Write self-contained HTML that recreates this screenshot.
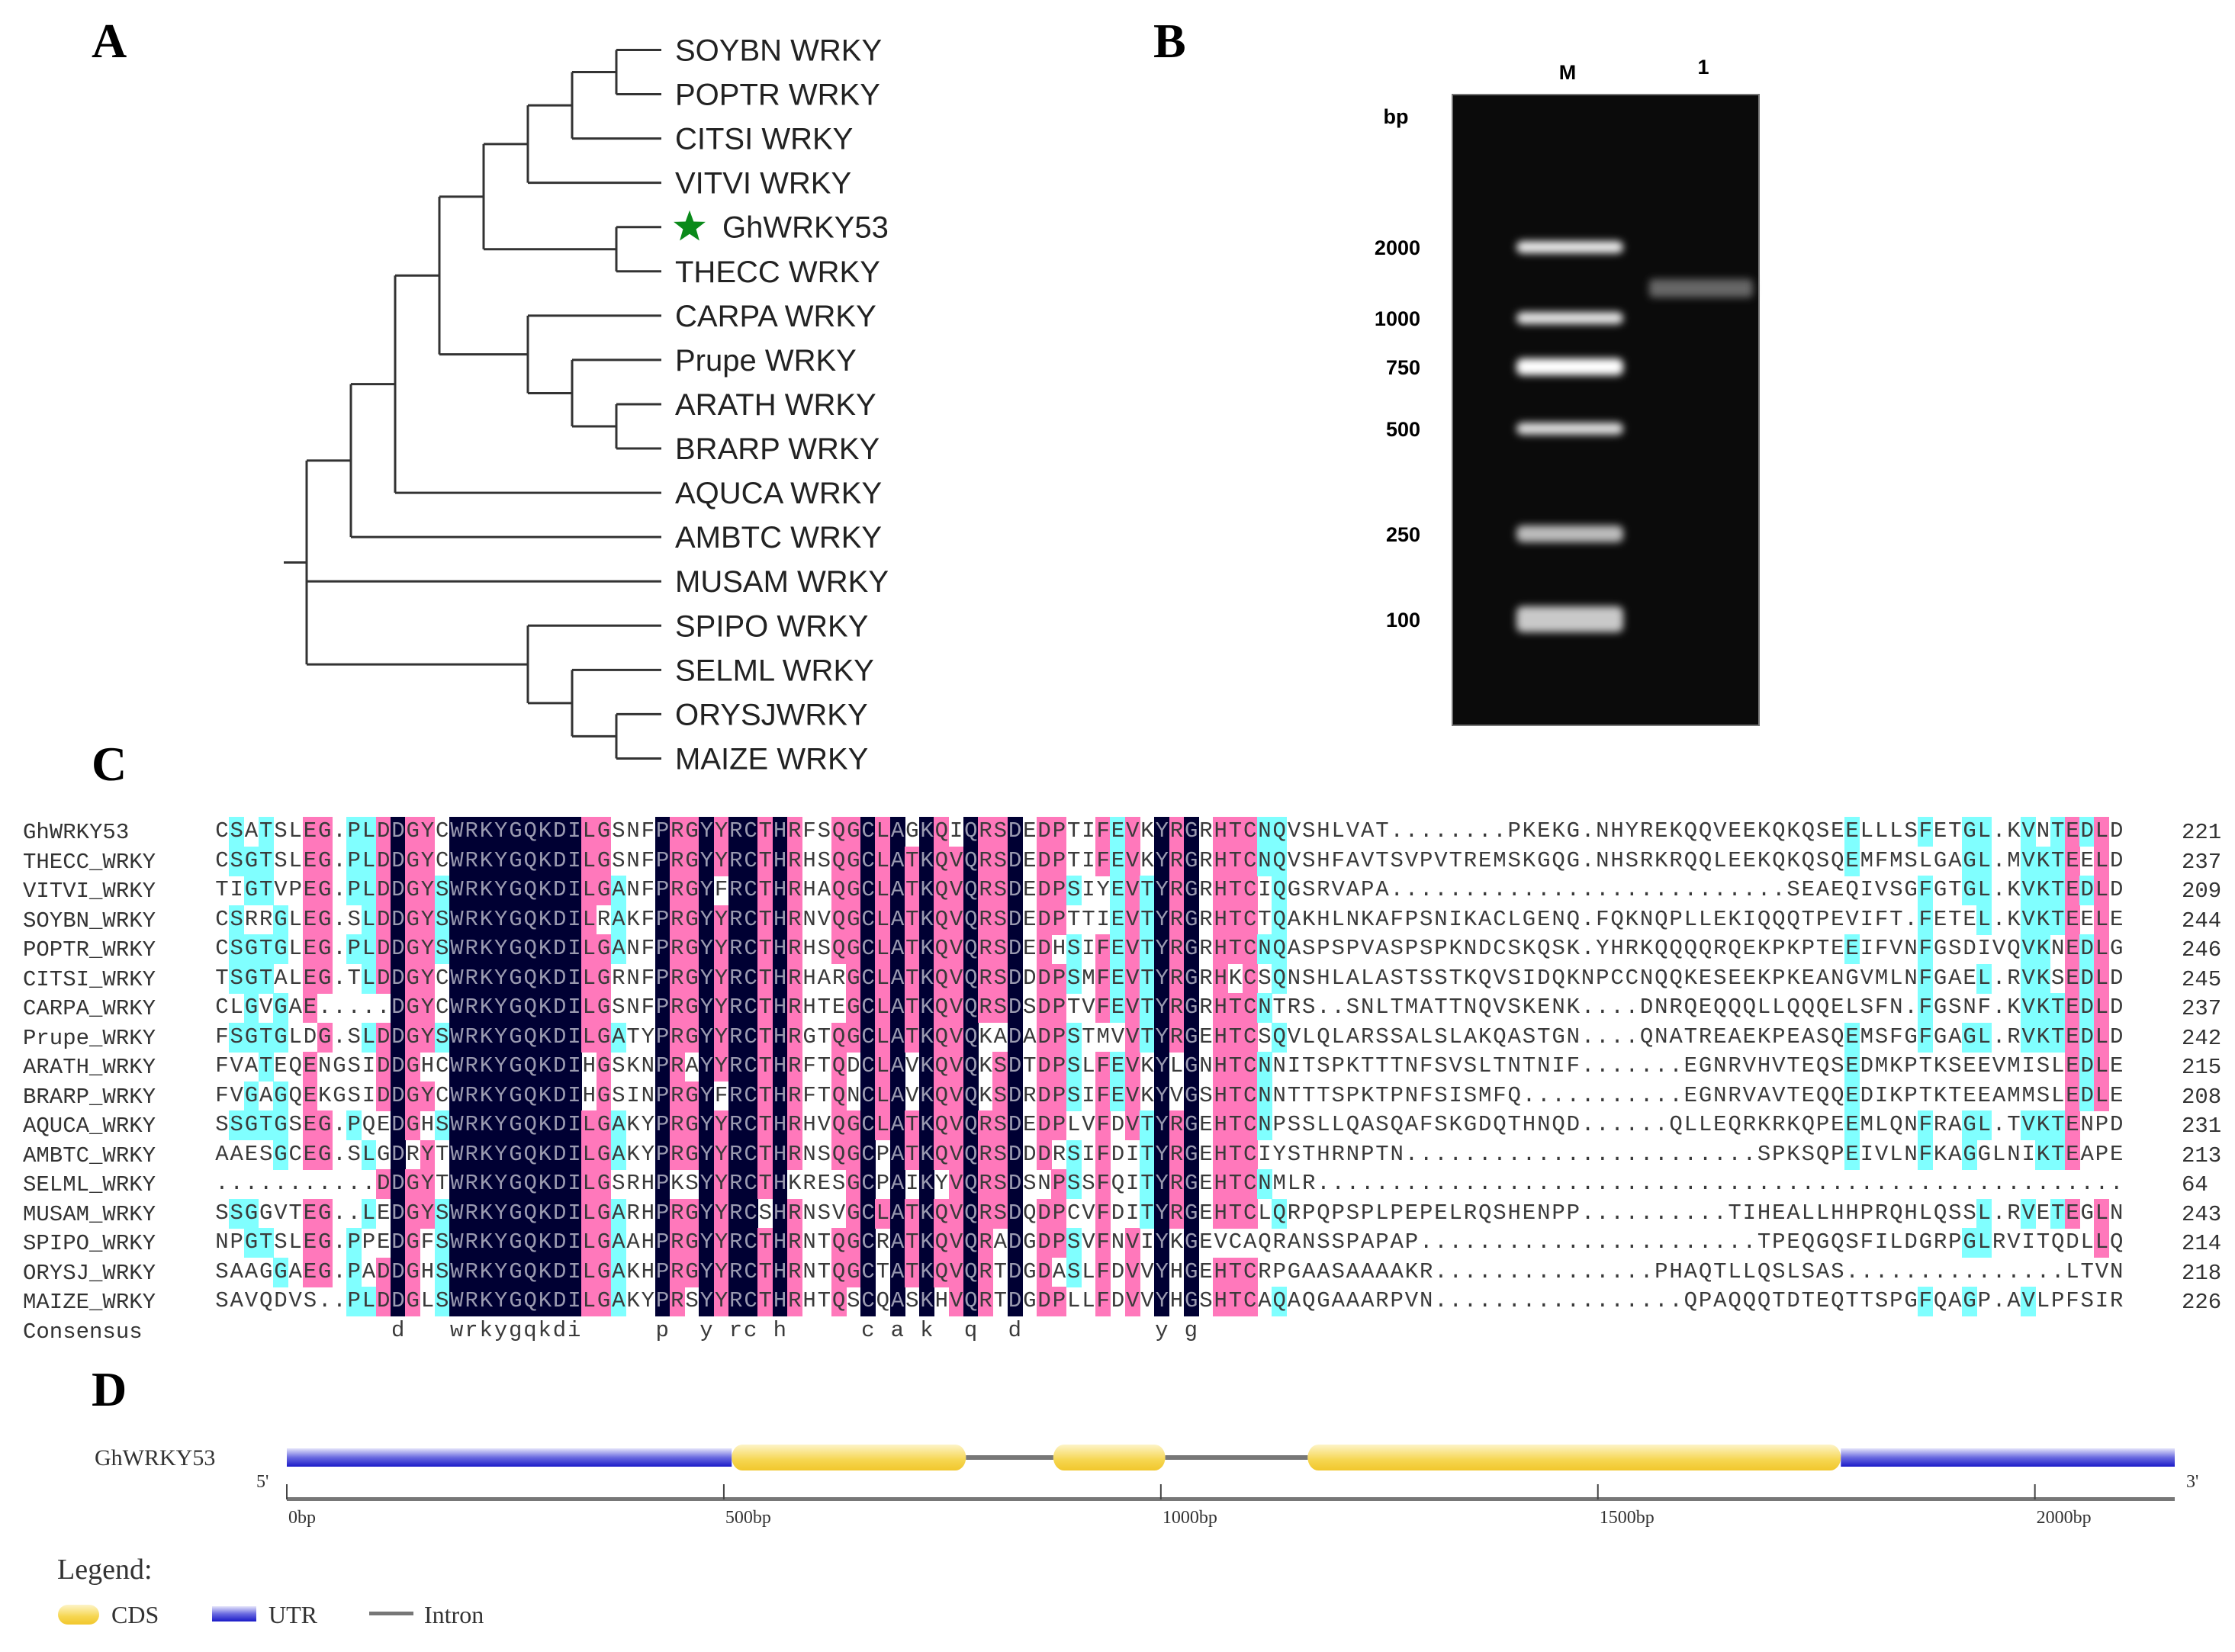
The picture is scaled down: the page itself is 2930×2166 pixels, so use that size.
<!DOCTYPE html>
<html><head><meta charset="utf-8">
<style>
html,body{margin:0;padding:0;background:#fff;}
#page{position:relative;width:2930px;height:2166px;overflow:hidden;background:#fff;}
.plabel{position:absolute;font-family:"Liberation Serif",serif;font-weight:bold;font-size:64px;line-height:1;}
#aln{position:absolute;left:0;top:0;width:2930px;height:2166px;}
.nm{position:absolute;font-family:"Liberation Mono",monospace;font-size:29px;color:#333;white-space:pre;line-height:1;}
.cell{position:absolute;font-family:"Liberation Mono",monospace;font-size:29px;text-align:center;line-height:38.5px;color:#3a3a3a;}
svg{position:absolute;left:0;top:0;}
</style></head>
<body>
<div id="page">
<div class="plabel" style="left:120px;top:22px">A</div>
<div class="plabel" style="left:1512px;top:22px">B</div>
<div class="plabel" style="left:120px;top:970px">C</div>
<div class="plabel" style="left:120px;top:1790px">D</div>

<svg id="tree" width="2930" height="2166"></svg>
<svg id="gel" width="2930" height="2166"></svg>
<div id="aln"></div>
<svg id="gene" width="2930" height="2166"></svg>
</div>

<script>
// ---------- Panel A: tree ----------
const leafNames = ["SOYBN WRKY","POPTR WRKY","CITSI WRKY","VITVI WRKY","GhWRKY53","THECC WRKY","CARPA WRKY","Prupe WRKY","ARATH WRKY","BRARP WRKY","AQUCA WRKY","AMBTC WRKY","MUSAM WRKY","SPIPO WRKY","SELML WRKY","ORYSJWRKY","MAIZE WRKY"];
const treeRoot = [0,[1,[2,[3,[4,[5,[6,[7,0,1],2],3],[7,4,5]],[5,6,[6,7,[7,8,9]]]],10],11],12,[5,13,[6,14,[7,15,16]]]];
(function(){
  const svg=document.getElementById('tree');
  const NS='http://www.w3.org/2000/svg';
  const lx0=402, lstep=58, leafEnd=867, y0=65.5, ystep=58.06;
  function nodeX(d){return lx0+d*lstep;}
  function leafY(i){return y0+i*ystep;}
  function line(x1,y1,x2,y2,name){
    const l=document.createElementNS(NS,'line');
    l.setAttribute('x1',x1);l.setAttribute('y1',y1);l.setAttribute('x2',x2);l.setAttribute('y2',y2);
    l.setAttribute('stroke','#333');l.setAttribute('stroke-width','3');
    
    
    svg.appendChild(l);
  }
  function draw(n){
    if(typeof n==='number') return leafY(n);
    const d=n[0], x=nodeX(d);
    const ys=[];
    for(let k=1;k<n.length;k++){
      const c=n[k]; const cy=draw(c);
      const cx = (typeof c==='number')?leafEnd:nodeX(c[0]);
      line(x,cy,cx,cy,'tree-branch');
      ys.push(cy);
    }
    line(x,ys[0],x,ys[ys.length-1],'tree-node');
    return (ys[0]+ys[ys.length-1])/2;
  }
  const ry=draw(treeRoot);
  line(372,ry,nodeX(0),ry,'tree-root');
  leafNames.forEach((nm,i)=>{
    const t=document.createElementNS(NS,'text');
    const y=leafY(i)+14;
    if(nm==='GhWRKY53'){
      const s=document.createElementNS(NS,'polygon');
      const cx=904,cy=leafY(i),R=22,r=9;let p=[];
      for(let k=0;k<10;k++){const a=-Math.PI/2+k*Math.PI/5;const rr=k%2?r:R;p.push((cx+rr*Math.cos(a)).toFixed(1)+','+(cy+rr*Math.sin(a)).toFixed(1));}
      s.setAttribute('points',p.join(' '));s.setAttribute('fill','#0a8a1a');
      
      
      svg.appendChild(s);
      t.setAttribute('x',947);
    } else t.setAttribute('x',885);
    t.setAttribute('y',y);
    t.setAttribute('font-family','Liberation Sans, sans-serif');t.setAttribute('font-size','40');t.setAttribute('fill','#222');
    t.textContent=nm;
    
    
    svg.appendChild(t);
  });
})();

// ---------- Panel B: gel ----------
const ladderSizes=["2000","1000","750","500","250","100"];
const ladderY=[324,417,481,562,700,812];
const ladderBright=[0.85,0.8,1.0,0.75,0.5,0.6];
const sampleBandY=[378];
(function(){
  const svg=document.getElementById('gel');const NS='http://www.w3.org/2000/svg';
  svg.innerHTML='<defs><filter id="blur" x="-20%" y="-200%" width="140%" height="500%"><feGaussianBlur stdDeviation="5"/></filter></defs>';
  const r=document.createElementNS(NS,'rect');
  r.setAttribute('x',1904);r.setAttribute('y',124);r.setAttribute('width',402);r.setAttribute('height',827);r.setAttribute('fill','#0b0b0b');r.setAttribute('stroke','#777');r.setAttribute('stroke-width','2');
  
  
  svg.appendChild(r);
  function txt(x,y,s,name,anchor){
    const t=document.createElementNS(NS,'text');t.setAttribute('x',x);t.setAttribute('y',y);
    t.setAttribute('font-family','Liberation Sans, sans-serif');t.setAttribute('font-weight','bold');t.setAttribute('font-size','27');
    t.setAttribute('text-anchor',anchor||'middle');t.textContent=s;
    
    
    svg.appendChild(t);
  }
  txt(2055,104,'M','lane-m-label');txt(2233,97,'1','lane-1-label');txt(1830,162,'bp','bp-label');
  ladderSizes.forEach((s,i)=>{
    txt(1862,ladderY[i]+10,s,'ladder-size-label','end');
    const b=document.createElementNS(NS,'rect');
    const h = i===5?34:(i===4?22:(i===2?22:16));
    b.setAttribute('x',1988);b.setAttribute('y',ladderY[i]-h/2);b.setAttribute('width',140);b.setAttribute('height',h);b.setAttribute('rx',8);
    const g=Math.round(120+135*ladderBright[i]);
    b.setAttribute('fill','rgb('+g+','+g+','+g+')');b.setAttribute('filter','url(#blur)');
    
    
    svg.appendChild(b);
  });
  sampleBandY.forEach(y=>{
    const b=document.createElementNS(NS,'rect');
    b.setAttribute('x',2162);b.setAttribute('y',y-12);b.setAttribute('width',136);b.setAttribute('height',24);b.setAttribute('rx',5);
    b.setAttribute('fill','#666');b.setAttribute('filter','url(#blur)');
    
    
    svg.appendChild(b);
  });
})();

// ---------- Panel C: alignment ----------
const seqNames=["GhWRKY53","THECC_WRKY","VITVI_WRKY","SOYBN_WRKY","POPTR_WRKY","CITSI_WRKY","CARPA_WRKY","Prupe_WRKY","ARATH_WRKY","BRARP_WRKY","AQUCA_WRKY","AMBTC_WRKY","SELML_WRKY","MUSAM_WRKY","SPIPO_WRKY","ORYSJ_WRKY","MAIZE_WRKY"];
const seqs=[
"CSATSLEG.PLDDGYCWRKYGQKDILGSNFPRGYYRCTHRFSQGCLAGKQIQRSDEDPTIFEVKYRGRHTCNQVSHLVAT........PKEKG.NHYREKQQVEEKQKQSEELLLSFETGL.KVNTEDLD",
"CSGTSLEG.PLDDGYCWRKYGQKDILGSNFPRGYYRCTHRHSQGCLATKQVQRSDEDPTIFEVKYRGRHTCNQVSHFAVTSVPVTREMSKGQG.NHSRKRQQLEEKQKQSQEMFMSLGAGL.MVKTEELD",
"TIGTVPEG.PLDDGYSWRKYGQKDILGANFPRGYFRCTHRHAQGCLATKQVQRSDEDPSIYEVTYRGRHTCIQGSRVAPA.......................SEAEQIVSGFGTGL.KVKTEDLD",
"CSRRGLEG.SLDDGYSWRKYGQKDILRAKFPRGYYRCTHRNVQGCLATKQVQRSDEDPTTIEVTYRGRHTCTQAKHLNKAFPSNIKACLGENQ.FQKNQPLLEKIQQQTPEVIFT.FETEL.KVKTEELE",
"CSGTGLEG.PLDDGYSWRKYGQKDILGANFPRGYYRCTHRHSQGCLATKQVQRSDEDHSIFEVTYRGRHTCNQASPSPVASPSPKNDCSKQSK.YHRKQQQQRQEKPKPTEEIFVNFGSDIVQVKNEDLG",
"TSGTALEG.TLDDGYCWRKYGQKDILGRNFPRGYYRCTHRHARGCLATKQVQRSDDDPSMFEVTYRGRHKCSQNSHLALASTSSTKQVSIDQKNPCCNQQKESEEKPKEANGVMLNFGAEL.RVKSEDLD",
"CLGVGAE.....DGYCWRKYGQKDILGSNFPRGYYRCTHRHTEGCLATKQVQRSDSDPTVFEVTYRGRHTCNTRS..SNLTMATTNQVSKENK....DNRQEQQQLLQQQELSFN.FGSNF.KVKTEDLD",
"FSGTGLDG.SLDDGYSWRKYGQKDILGATYPRGYYRCTHRGTQGCLATKQVQKADADPSTMVVTYRGEHTCSQVLQLARSSALSLAKQASTGN....QNATREAEKPEASQEMSFGFGAGL.RVKTEDLD",
"FVATEQENGSIDDGHCWRKYGQKDIHGSKNPRAYYRCTHRFTQDCLAVKQVQKSDTDPSLFEVKYLGNHTCNNITSPKTTTNFSVSLTNTNIF.......EGNRVHVTEQSEDMKPTKSEEVMISLEDLE",
"FVGAGQEKGSIDDGYCWRKYGQKDIHGSINPRGYFRCTHRFTQNCLAVKQVQKSDRDPSIFEVKYVGSHTCNNTTTSPKTPNFSISMFQ..........EGNRVAVTEQQEDIKPTKTEEAMMSLEDLE",
"SSGTGSEG.PQEDGHSWRKYGQKDILGAKYPRGYYRCTHRHVQGCLATKQVQRSDEDPLVFDVTYRGEHTCNPSSLLQASQAFSKGDQTHNQD......QLLEQRKRKQPEEMLQNFRAGL.TVKTENPD",
"AAESGCEG.SLGDRYTWRKYGQKDILGAKYPRGYYRCTHRNSQGCPATKQVQRSDDDRSIFDITYRGEHTCIYSTHRNPTN........................SPKSQPEIVLNFKAGGLNIKTEAPE",
"...........DDGYTWRKYGQKDILGSRHPKSYYRCTHKRESGCPAIKYVQRSDSNPSSFQITYRGEHTCNMLR.......................................................",
"SSGGVTEG..LEDGYSWRKYGQKDILGARHPRGYYRCSHRNSVGCLATKQVQRSDQDPCVFDITYRGEHTCLQRPQPSPLPEPELRQSHENPP..........TIHEALLHHPRQHLQSSL.RVETEGLN",
"NPGTSLEG.PPEDGFSWRKYGQKDILGAAHPRGYYRCTHRNTQGCRATKQVQRADGDPSVFNVIYKGEVCAQRANSSPAPAP......................TPEQGQSFILDGRPGLRVITQDLLQ",
"SAAGGAEG.PADDGHSWRKYGQKDILGAKHPRGYYRCTHRNTQGCTATKQVQRTDGDASLFDVVYHGEHTCRPGAASAAAAKR...............PHAQTLLQSLSAS.................LTVN",
"SAVQDVS..PLDDGLSWRKYGQKDILGAKYPRSYYRCTHRHTQSCQASKHVQRTDGDPLLFDVVYHGSHTCAQAQGAAARPVN................QPAQQQTDTEQTTSPGFQAGP.AVLPFSIR"];
const seqLengths=["221","237","209","244","246","245","237","242","215","208","231","213","64","243","214","218","226"];
(function(){
  const L=130, HEAD=74, TAIL=9, MID=L-HEAD-TAIL;
  function norm(s){
    let h=s.slice(0,HEAD), t=s.slice(-TAIL), m=s.slice(HEAD,s.length-TAIL);
    if(s.length<=HEAD+TAIL){return (s+'.'.repeat(L)).slice(0,L);}
    while(m.length<MID){const i=m.indexOf('.');if(i<0)m+='.';else m=m.slice(0,i)+'.'+m.slice(i);}
    if(m.length>MID){ m=m.slice(0,MID); }
    return h+m+t;
  }
  const rows=seqs.map(norm);
  const host=document.getElementById('aln');
  const x0=281, cw=(2784-281)/L, y0=1071, rh=38.5;
  seqNames.forEach((n,i)=>{
    const d=document.createElement('div');d.className='nm';d.style.left='30px';d.style.top=(y0+i*rh+6)+'px';d.textContent=n;
    
    
    host.appendChild(d);
    const e=document.createElement('div');e.className='nm';e.style.left='2860px';e.style.top=(y0+i*rh+6)+'px';e.textContent=seqLengths[i];
    
    
    host.appendChild(e);
  });
  const cons=document.createElement('div');cons.className='nm';cons.style.left='30px';cons.style.top=(y0+rows.length*rh+6)+'px';cons.textContent='Consensus';
  
  
  host.appendChild(cons);
  const N=rows.length;
  for(let c=0;c<L;c++){
    const cnt={};rows.forEach(r=>{const ch=r[c];if(ch!=='.'&&ch!==' ')cnt[ch]=(cnt[ch]||0)+1;});
    let best='',bn=0;for(const k in cnt)if(cnt[k]>bn){bn=cnt[k];best=k;}
    const frac=bn/N;
    const fullCons = frac>=0.999;
    for(let r=0;r<N;r++){
      const ch=rows[r][c];
      const el=document.createElement('div');el.className='cell';
      el.style.left=(x0+c*cw)+'px';el.style.top=(y0+r*rh)+'px';el.style.width=(cw+0.6)+'px';el.style.height=(rh+0.6)+'px';
      let bg='';
      if(ch===best){ if(fullCons){bg='#000033';el.style.color='#9a9ab0';} else if(frac>=0.7) bg='#ff78bb'; else if(frac>=0.45) bg='#80ffff'; }
      if(bg) el.style.background=bg;
      el.textContent=ch;
      
      
      host.appendChild(el);
    }
    if(fullCons){
      const el=document.createElement('div');el.className='cell';
      el.style.left=(x0+c*cw)+'px';el.style.top=(y0+N*rh)+'px';el.style.width=cw+'px';
      el.textContent=best.toLowerCase();
      
      
      host.appendChild(el);
    }
  }
})();

// ---------- Panel D: gene structure ----------
const featureTypes=["UTR","CDS","intron","CDS","intron","CDS","UTR"];
const featureStart=[0,509,777,877,1005,1168,1778];
const featureEnd=[509,777,877,1005,1168,1778,2160];
const tickValues=[0,500,1000,1500,2000];
const tickLabels=["0bp","500bp","1000bp","1500bp","2000bp"];
(function(){
  const svg=document.getElementById('gene');const NS='http://www.w3.org/2000/svg';
  svg.innerHTML='<defs><linearGradient id="gc" x1="0" y1="0" x2="0" y2="1"><stop offset="0" stop-color="#fdf4c8"/><stop offset="0.6" stop-color="#f6d650"/><stop offset="1" stop-color="#f1c72c"/></linearGradient><linearGradient id="gu" x1="0" y1="0" x2="0" y2="1"><stop offset="0" stop-color="#e4e4fa"/><stop offset="0.5" stop-color="#6a6ae0"/><stop offset="1" stop-color="#1a1ac8"/></linearGradient></defs>';
  const X0=376, PX=(2851-376)/2160;
  const xs=v=>X0+v*PX;
  const cy=1911;
  function el(tag,attrs,name){const e=document.createElementNS(NS,tag);for(const k in attrs)e.setAttribute(k,attrs[k]);
    
    
    svg.appendChild(e);return e;}
  function text(x,y,s,size,name,anchor){const t=el('text',{x:x,y:y,'font-family':'Liberation Serif, serif','font-size':size,fill:'#333','text-anchor':anchor||'start'},name);t.textContent=s;return t;}
  featureTypes.forEach((t,i)=>{
    const a=xs(featureStart[i]),b=xs(featureEnd[i]);
    if(t==='intron') el('rect',{x:a,y:cy-3,width:b-a,height:6,fill:'#777'},'intron-line');
    else if(t==='UTR') el('rect',{x:a,y:cy-12,width:b-a,height:24,fill:'url(#gu)'},'utr-block');
    else el('rect',{x:a,y:cy-17,width:b-a,height:34,rx:14,ry:17,fill:'url(#gc)'},'cds-block');
  });
  text(124,1921,'GhWRKY53',30,'gene-name-label');
  text(336,1950,"5'",24,'five-prime-label');
  text(2866,1950,"3'",24,'three-prime-label');
  el('rect',{x:X0,y:1963,width:2851-X0,height:5,fill:'#777'},'scale-axis');
  tickValues.forEach((v,i)=>{
    el('line',{x1:xs(v),y1:1946,x2:xs(v),y2:1966,stroke:'#444','stroke-width':2},'axis-tick');
    text(xs(v)+2,1997,tickLabels[i],24,'axis-tick-label');
  });
  text(75,2070,'Legend:',38,'legend-title');
  el('rect',{x:76,y:2104,width:54,height:26,rx:13,fill:'url(#gc)'},'legend-cds-swatch');
  text(146,2128,'CDS',32,'legend-cds-label');
  el('rect',{x:278,y:2106,width:58,height:20,fill:'url(#gu)'},'legend-utr-swatch');
  text(352,2128,'UTR',32,'legend-utr-label');
  el('rect',{x:484,y:2113,width:58,height:5,fill:'#777'},'legend-intron-swatch');
  text(556,2128,'Intron',32,'legend-intron-label');
})();
</script>
</body></html>
